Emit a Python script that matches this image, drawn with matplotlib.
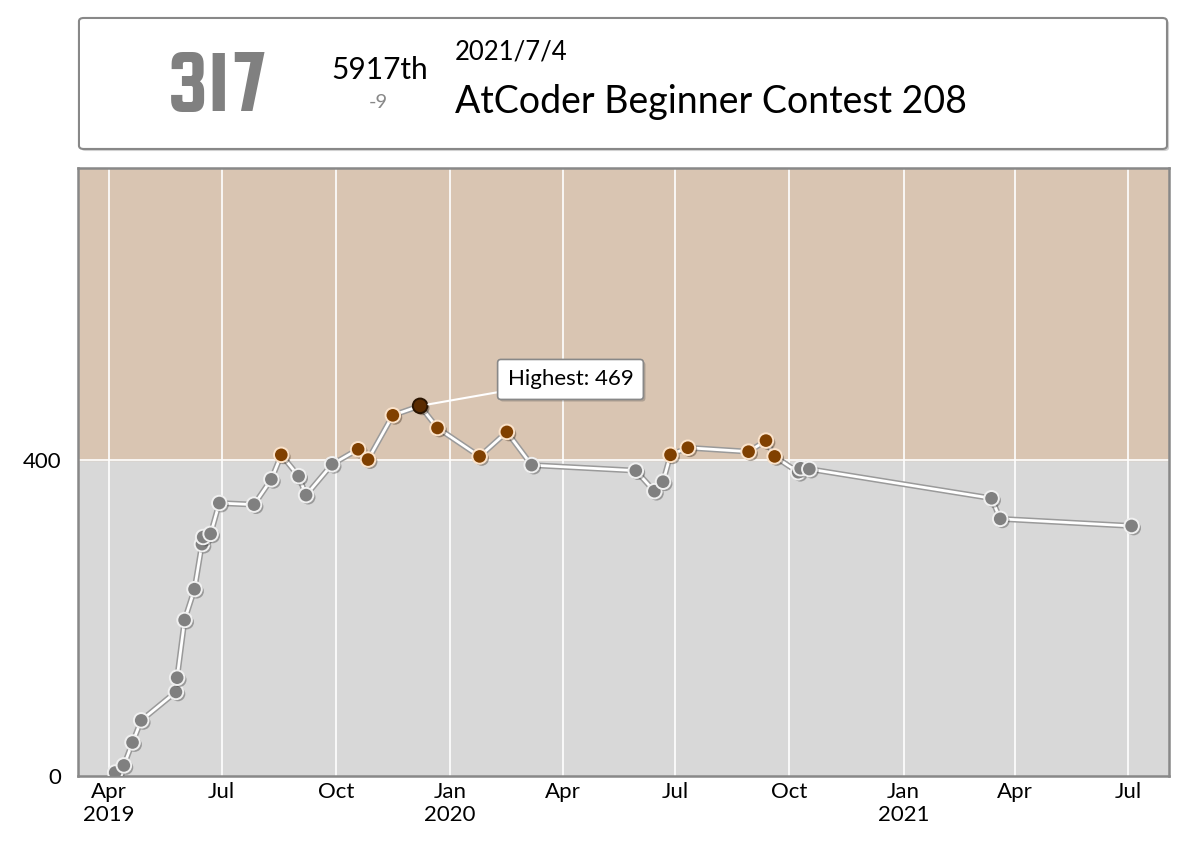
import matplotlib.pyplot as plt
import matplotlib.dates as mdates
import matplotlib.patheffects as pe
from matplotlib.patches import FancyBboxPatch
import pandas as pd
import numpy as np

plt.rcParams['font.family'] = ['Lato', 'DejaVu Sans']

# contest history
dates = ["2019-04-06", "2019-04-13", "2019-04-20", "2019-04-27", "2019-05-25",
         "2019-05-26", "2019-06-01", "2019-06-09", "2019-06-15", "2019-06-16",
         "2019-06-22", "2019-06-29", "2019-07-27", "2019-08-10", "2019-08-18",
         "2019-09-01", "2019-09-07", "2019-09-28", "2019-10-19", "2019-10-27",
         "2019-11-16", "2019-12-08", "2019-12-22", "2020-01-25", "2020-02-16",
         "2020-03-07", "2020-05-30", "2020-06-14", "2020-06-21", "2020-06-27",
         "2020-07-11", "2020-08-29", "2020-09-12", "2020-09-19", "2020-10-08",
         "2020-10-10", "2020-10-17", "2021-03-13", "2021-03-20", "2021-07-04"]
ratings = [5, 14, 43, 71, 107, 125, 198, 237, 294, 303,
           307, 346, 344, 376, 407, 380, 356, 395, 414, 401,
           457, 469, 441, 405, 436, 394, 387, 361, 373, 407,
           416, 411, 425, 405, 385, 390, 389, 352, 326, 317]

band_edges = [0, 400, 800]
band_colors = ["#D8D8D8", "#D9C5B2"]
yticks = [0, 400]

last_rating = "317"
last_rank = "5917th"
last_diff = "-9"
last_date = "2021/7/4"
last_contest = "AtCoder Beginner Contest 208"

x = pd.to_datetime(dates)
r = np.array(ratings)

fig = plt.figure(figsize=(12, 8.44), dpi=100)
ax = fig.add_axes([0.065, 0.08, 0.909, 0.721])

for lo, hi, c in zip(band_edges[:-1], band_edges[1:], band_colors):
    ax.axhspan(lo, hi, color=c, zorder=0)
ax.axhline(400, color="white", lw=1.2, zorder=1)

ax.set_xlim(pd.Timestamp("2019-03-07"), pd.Timestamp("2021-08-03"))
ax.set_ylim(0, 770)

ax.xaxis.set_major_locator(mdates.MonthLocator(bymonth=[1, 4, 7, 10]))


def fmt(val, pos):
    d = mdates.num2date(val)
    s = d.strftime("%b")
    if d.month == 1 or pos == 0:
        s += "\n" + str(d.year)
    return s


ax.xaxis.set_major_formatter(plt.FuncFormatter(fmt))
ax.set_yticks(yticks)
ax.tick_params(length=0, labelsize=16)
ax.tick_params(axis="y", pad=12)
ax.tick_params(axis="x", pad=4)
ax.grid(axis="x", color="white", lw=1.2, zorder=1)
ax.set_axisbelow(True)
for s in ax.spines.values():
    s.set_color("#888888")
    s.set_linewidth(1.8)

# line: white core with grey edge
ax.plot(x, r, color="white", lw=2, zorder=3,
        path_effects=[pe.Stroke(linewidth=4.2, foreground="#9A9A9A"), pe.Normal()])

hi = int(np.argmax(r))
shadow = [pe.SimplePatchShadow(offset=(1.5, -1.5), alpha=0.35), pe.Normal()]
for i in range(len(r)):
    if i == hi:
        fc, ec = "#5A2B00", "#2A1400"
    elif r[i] >= 400:
        fc, ec = "#804000", "#FBE3CB"
    else:
        fc, ec = "#808080", "#F0F0F0"
    ax.plot(x[i], r[i], "o", ms=10.5, mfc=fc, mec=ec, mew=1.4, zorder=4,
            path_effects=shadow)

ax.annotate("Highest: %d" % r[hi], xy=(x[hi], r[hi]), xytext=(63, 19),
            textcoords="offset points", fontsize=16, ha="left", va="center",
            bbox=dict(boxstyle="round,pad=0.45,rounding_size=0.15", fc="white",
                      ec="#888888", lw=1.2,
                      path_effects=[pe.SimplePatchShadow(offset=(1.5, -1.5), alpha=0.3), pe.Normal()]),
            arrowprops=dict(arrowstyle="-", color="white", lw=1.5,
                            shrinkA=0, shrinkB=6), zorder=5)

# header box
box = FancyBboxPatch((0.0658, 0.8235), 0.9067, 0.1552, transform=fig.transFigure,
                     boxstyle="round,pad=0,rounding_size=0.004", fc="white",
                     ec="#888888", lw=1.5,
                     path_effects=[pe.SimplePatchShadow(offset=(1.5, -1.5), alpha=0.25), pe.Normal()])
fig.patches.append(box)

fig.text(0.1817, 0.868, last_rating, ha="center", va="baseline", fontsize=65,
         color="#808080",
         family=["Squada One", "Oswald", "Roboto Condensed", "DejaVu Sans"])
fig.text(0.3167, 0.906, last_rank, ha="center", va="baseline", fontsize=21.5)
fig.text(0.315, 0.872, last_diff, ha="center", va="baseline", fontsize=14.5, color="#888888")
fig.text(0.379, 0.929, last_date, ha="left", va="baseline", fontsize=18.5)
fig.text(0.379, 0.866, last_contest, ha="left", va="baseline", fontsize=27)

fig.savefig("out.png", dpi=100)
